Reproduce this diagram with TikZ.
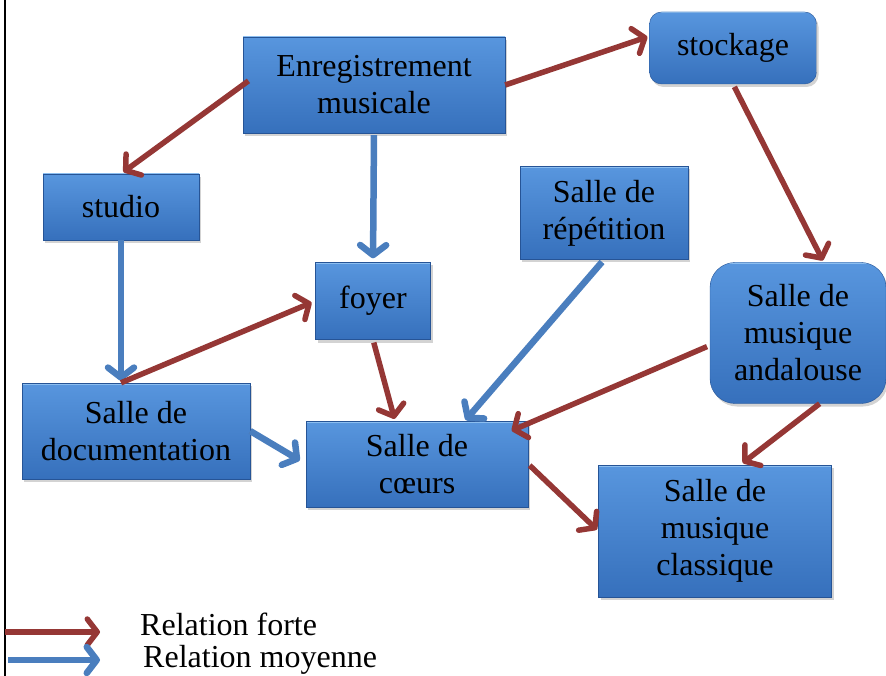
\documentclass[tikz,border=0pt]{standalone}
\usepackage{fontspec}
\setmainfont{Liberation Serif}
\usepackage{tikz}
\usetikzlibrary{arrows.meta, positioning, shadows}

\definecolor{forteRed}{RGB}{149,55,53}
\definecolor{moyBlue}{RGB}{74,126,190}
\definecolor{boxTop}{RGB}{88,150,222}
\definecolor{boxBot}{RGB}{54,112,188}
\definecolor{boxLine}{RGB}{38,84,150}
\definecolor{boxHi}{RGB}{140,190,240}

\begin{document}
\begin{tikzpicture}[
    x=1pt, y=-1pt,
    every node/.style={font=\fontsize{32}{37}\selectfont},
    salle/.style={rectangle, draw=boxLine, thin, top color=boxTop, bottom color=boxBot,
                  align=center, inner sep=0pt,
                  path picture={\draw[boxHi, line width=3pt]
                      (path picture bounding box.north west) -- (path picture bounding box.north east);},
                  drop shadow={shadow xshift=2pt, shadow yshift=-3pt, opacity=0.35}},
    forte/.style={-{Straight Barb[round, length=10pt, width=26pt]}, line width=5.5pt, draw=forteRed},
    moyenne/.style={-{Straight Barb[round, length=10pt, width=26pt]}, line width=6.5pt, draw=moyBlue},
    legende/.style={anchor=west, inner sep=0pt}
]
\useasboundingbox (0,0) rectangle (886,676);

% left border
\draw[line width=2pt] (5,0) -- (5,676);

% Top row
\node[salle, minimum width=262pt, minimum height=96pt] (enr) at (374,85)
    {Enregistrement\\musicale};
\node[salle, rounded corners=12pt, minimum width=167pt, minimum height=72pt] (stock) at (733,48)
    {stockage};

% Middle row
\node[salle, minimum width=156pt, minimum height=66pt] (studio) at (121,207) {studio};
\node[salle, minimum width=168pt, minimum height=93pt] (rep) at (604,213) {Salle de\\répétition};
\node[salle, minimum width=115pt, minimum height=77pt] (foyer) at (373,301) {foyer};
\node[salle, rounded corners=25pt, minimum width=176pt, minimum height=141pt] (anda) at (798,333)
    {Salle de\\musique\\andalouse};

% Bottom row
\node[salle, minimum width=228pt, minimum height=96pt] (doc) at (136,431) {Salle de\\documentation};
\node[salle, minimum width=222pt, minimum height=86pt] (coeurs) at (417,464) {Salle de\\cœurs};
\node[salle, minimum width=233pt, minimum height=132pt] (classique) at (715,531)
    {Salle de\\musique\\classique};

\coordinate (docin) at (studio.south |- doc.north);

% Arrows
\draw[forte, shorten <=-7pt, shorten >=3pt] (enr.west) -- (studio.north);
\draw[forte, shorten >=2pt] (enr.east) -- (stock.172);
\draw[moyenne, shorten <=2pt, shorten >=4pt] (enr.south) -- (foyer.north);
\draw[forte, shorten <=3pt, shorten >=2pt] (stock.south) -- (anda.70);
\draw[moyenne, shorten >=2pt] (studio.south) -- (docin);
\draw[forte, shorten >=4pt] (docin) -- (foyer.west);
\draw[moyenne, shorten >=7pt] (doc.east) -- (coeurs.west);
\draw[forte, shorten <=3pt, shorten >=2pt] (foyer.south) -- (coeurs.117);
\draw[moyenne, shorten <=3pt, shorten >=1pt] (rep.south) -- (coeurs.42);
\draw[forte, shorten <=3pt, shorten >=-18pt] (anda.188) -- (coeurs.20);
\draw[forte, shorten >=3pt] (anda.-73) -- (classique.69);
\draw[forte, shorten <=2pt, shorten >=2pt] (coeurs.east) -- (classique.west);

% Legend
\coordinate (fa) at (5,632);
\coordinate (fb) at (100,632);
\coordinate (ma) at (8,660);
\coordinate (mb) at (100,660);
\draw[forte] (fa) -- (fb);
\draw[moyenne] (ma) -- (mb);
\node[legende] (lforte) at (140,624) {Relation forte};
\node[legende] (lmoy) at (143,660) {Relation moyenne};

\end{tikzpicture}
\end{document}
